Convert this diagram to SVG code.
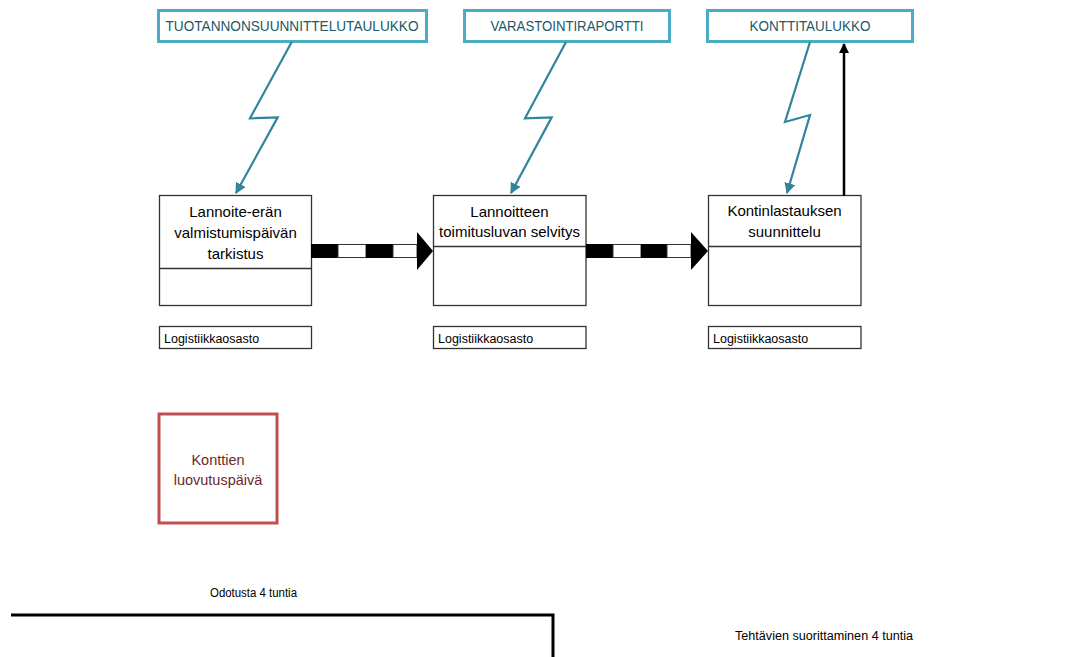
<svg xmlns="http://www.w3.org/2000/svg" width="1090" height="657" viewBox="0 0 1090 657">
<style>
text{font-family:"Liberation Sans",Arial,sans-serif;}
.src{fill:#fff;stroke:#4BACC6;stroke-width:3;}
.srct{font-size:14px;fill:#215868;text-anchor:middle;}
.box{fill:#fff;stroke:#333;stroke-width:1.3;}
.bt{font-size:15px;fill:#000;text-anchor:middle;}
.dept{font-size:12.5px;fill:#000;}
.bolt{fill:none;stroke:#31849B;stroke-width:2.2;stroke-linejoin:miter;marker-end:url(#ta);}
.blk{fill:#000;}
.wht{fill:#fff;stroke:#333;stroke-width:1;}
.note{font-size:12px;fill:#000;}
</style>
<defs>
<marker id="ta" viewBox="0 0 10 10" refX="9" refY="5" markerWidth="5" markerHeight="5" orient="auto" markerUnits="strokeWidth">
<path d="M0,0 L10,5 L0,10 z" fill="#31849B"/>
</marker>
<marker id="ba" viewBox="0 0 10 10" refX="9" refY="5" markerWidth="4" markerHeight="4" orient="auto" markerUnits="strokeWidth">
<path d="M0,0 L10,5 L0,10 z" fill="#000"/>
</marker>
</defs>

<g id="src1">
<rect class="src" x="158.5" y="10.5" width="268" height="31"/>
<text class="srct" x="292" y="31" textLength="253" lengthAdjust="spacingAndGlyphs">TUOTANNONSUUNNITTELUTAULUKKO</text>
</g>
<g id="src2">
<rect class="src" x="464.5" y="10.5" width="205" height="31"/>
<text class="srct" x="567" y="31" textLength="153" lengthAdjust="spacingAndGlyphs">VARASTOINTIRAPORTTI</text>
</g>
<g id="src3">
<rect class="src" x="707.5" y="10.5" width="205" height="31"/>
<text class="srct" x="810" y="31" textLength="121" lengthAdjust="spacingAndGlyphs">KONTTITAULUKKO</text>
</g>

<g id="task1">
<rect class="box" x="159.5" y="195.5" width="152" height="110"/>
<line x1="159.5" y1="268.5" x2="311.5" y2="268.5" stroke="#333" stroke-width="1.3"/>
<text class="bt" x="235.5" y="216.5">Lannoite-erän</text>
<text class="bt" x="235.5" y="237.5">valmistumispäivän</text>
<text class="bt" x="235.5" y="258.5">tarkistus</text>
</g>
<g id="dept1">
<rect class="box" x="159.5" y="326.5" width="152" height="22"/>
<text class="dept" x="164" y="342.5">Logistiikkaosasto</text>
</g>

<g id="task2">
<rect class="box" x="433.5" y="195.5" width="152.5" height="110"/>
<line x1="433.5" y1="246.5" x2="586" y2="246.5" stroke="#333" stroke-width="1.3"/>
<text class="bt" x="509.5" y="216.5">Lannoitteen</text>
<text class="bt" x="509.5" y="237">toimitusluvan selvitys</text>
</g>
<g id="dept2">
<rect class="box" x="433.5" y="326.5" width="152.5" height="22"/>
<text class="dept" x="438" y="342.5">Logistiikkaosasto</text>
</g>

<g id="task3">
<rect class="box" x="708.5" y="195.5" width="152.5" height="110"/>
<line x1="708.5" y1="246.5" x2="861" y2="246.5" stroke="#333" stroke-width="1.3"/>
<text class="bt" x="784.5" y="216">Kontinlastauksen</text>
<text class="bt" x="784.5" y="237">suunnittelu</text>
</g>
<g id="dept3">
<rect class="box" x="708.5" y="326.5" width="152.5" height="22"/>
<text class="dept" x="713" y="342.5">Logistiikkaosasto</text>
</g>

<g id="deadline">
<rect x="159" y="414" width="118" height="109" fill="#fff" stroke="#C0504D" stroke-width="3"/>
<text x="218" y="465" font-size="14.5" fill="#6b2a28" text-anchor="middle">Konttien</text>
<text x="218" y="485" font-size="14.5" fill="#6b2a28" text-anchor="middle">luovutuspäivä</text>
</g>

<g id="connectors">
<polyline class="bolt" points="291.7,42 250,118.3 277.7,117.3 236,193"/>
<polyline class="bolt" points="566,42 525,118.3 551.7,117.3 511,193"/>
<polyline class="bolt" points="810,42 785,122 810,115 787,193"/>
<line x1="844" y1="196" x2="844" y2="44" stroke="#000" stroke-width="2.5" marker-end="url(#ba)"/>

<rect class="blk" x="311" y="244" width="27" height="14"/>
<rect class="wht" x="338" y="244.5" width="28" height="13"/>
<rect class="blk" x="366" y="244" width="27" height="14"/>
<rect class="wht" x="393" y="244.5" width="24" height="13"/>
<polygon class="blk" points="417,232 433,251 417,270"/>

<rect class="blk" x="586" y="244" width="27" height="14"/>
<rect class="wht" x="613" y="244.5" width="28" height="13"/>
<rect class="blk" x="641" y="244" width="26" height="14"/>
<rect class="wht" x="667" y="244.5" width="24" height="13"/>
<polygon class="blk" points="691,232 708,251 691,270"/>

<path d="M11,615 H553 V657" fill="none" stroke="#000" stroke-width="3"/>
</g>

<g id="labels">
<text class="note" x="253.5" y="596.5" text-anchor="middle" textLength="87" lengthAdjust="spacingAndGlyphs">Odotusta 4 tuntia</text>
<text class="note" x="735" y="639.5" textLength="178" lengthAdjust="spacingAndGlyphs">Tehtävien suorittaminen 4 tuntia</text>
</g>
</svg>
